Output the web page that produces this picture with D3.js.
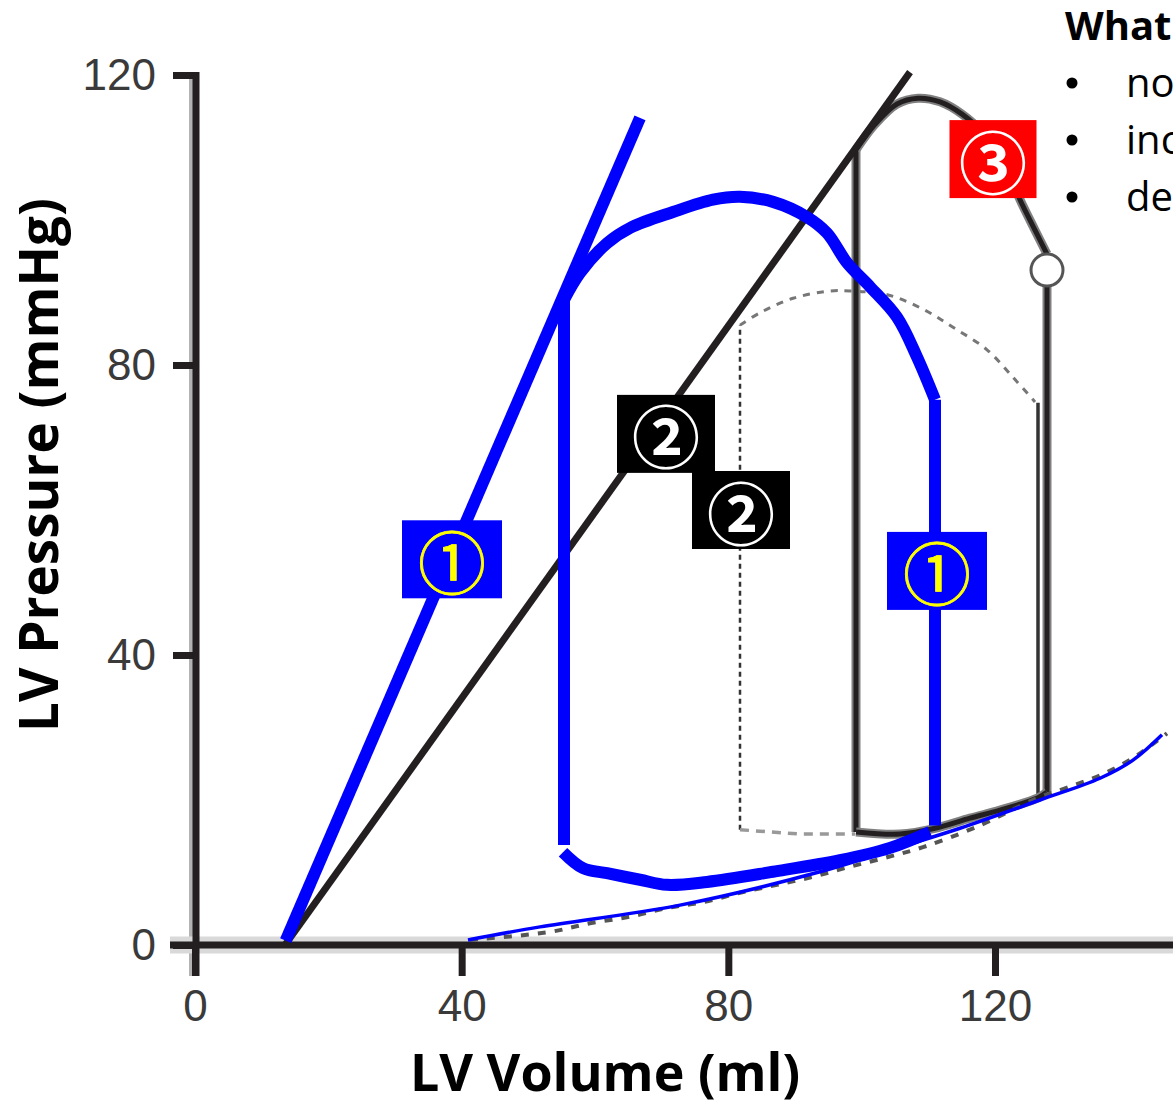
<!DOCTYPE html>
<html>
<head>
<meta charset="utf-8">
<script src="https://cdn.jsdelivr.net/npm/d3@7"></script>
<style>
  html, body { margin: 0; padding: 0; background: #fff; }
  svg { display: block; }
</style>
</head>
<body>
<div id="chart"></div>
<script>
// axis ticks
const volumeTicks = [0, 40, 80, 120];
const pressureTicks = [0, 40, 80, 120];

// end-systolic pressure-volume relations [volume ml, pressure mmHg]
const espvrBlack = [[13.5, 0], [107.25, 120.4]];
const espvrBlue = [[13.6, 0.6], [66.75, 114.1]];

// blue loop
const blueLoopRight = [[111.0, 16.5], [111.0, 75.2]];
const blueLoopEjection = [
  [111.0, 75.2], [108.3, 81.1], [105.3, 86.6], [101.25, 90.8],
  [97.8, 94.1], [94.8, 98.2], [91.8, 100.4], [86.7, 102.5], [81.75, 103.2],
  [77.7, 102.8], [71.7, 101.1], [65.25, 98.9], [61.8, 96.8], [57.75, 92.7],
  [55.35, 89.0]
];
const blueLoopLeft = [[55.35, 89.0], [55.35, 13.8]];
const blueLoopFilling = [
  [55.2, 12.8], [58.2, 10.6], [61.8, 9.9], [66.75, 9.0], [70.8, 8.3],
  [76.8, 8.7], [86.7, 10.1], [96.75, 11.7], [104.25, 13.4], [110.25, 15.6]
];

// grey solid loop
const greyLoopLeft = [[99.15, 15.6], [99.15, 109.7]];
const greyLoopTop = [
  [99.15, 109.7], [102.0, 113.2], [105.3, 116.0], [108.45, 116.8],
  [111.75, 116.3], [115.05, 114.6], [118.5, 111.7], [121.5, 107.6], [123.75, 102.8],
  [126.0, 98.6], [127.8, 95.3]
];
const greyLoopRight = [[127.8, 90.9], [127.8, 21.1]];
const greyLoopBottom = [
  [127.8, 21.1], [126.45, 20.3], [120.75, 18.6], [116.25, 17.5], [111.0, 16.1],
  [105.75, 15.3], [99.15, 15.6]
];
const valvePoint = [127.8, 93.1];

// dashed loop
const dashedLoopLeft = [[81.75, 15.9], [81.75, 85.5]];
const dashedLoopTop = [
  [81.75, 85.5], [84.75, 87.2], [89.7, 89.2], [95.25, 90.2], [98.25, 90.2],
  [103.8, 89.7], [109.2, 87.7], [113.7, 85.2], [118.8, 82.1], [122.7, 78.3], [126.0, 74.9]
];
const dashedLoopRight = [[126.45, 74.8], [126.45, 20.4]];
const dashedLoopBottom = [[81.75, 15.9], [90.75, 15.3], [99.0, 15.3]];

// end-diastolic pressure-volume relations
const edpvrDashed = [
  [41.25, 0.7], [53.25, 1.8], [59.25, 3.0], [65.25, 3.9], [70.8, 5.1], [76.2, 5.9],
  [81.75, 7.2], [87.3, 8.3], [92.7, 9.4], [98.25, 10.8], [103.8, 12.1], [109.2, 13.5],
  [117.0, 16.2], [126.45, 20.3], [130.8, 21.7], [135.75, 23.4], [140.7, 25.8], [145.8, 29.2]
];
const edpvrBlue = [
  [40.95, 0.7], [51.75, 2.5], [72.75, 5.5], [93.75, 10.1], [105.75, 13.5],
  [114.75, 16.1], [126.75, 20.0], [135.75, 23.0], [140.7, 25.5], [145.05, 29.0]
];

// numbered badges: [volume, pressure, label]
const badgeVolume = [38.55, 111.3, 70.65, 81.9, 119.7];
const badgePressure = [53.2, 51.6, 70.5, 60.0, 108.4];
const badgeLabels = ['\u2460', '\u2460', '\u2461', '\u2461', '\u2462'];
const badgeKinds = ['blue', 'blue', 'black', 'black', 'red'];

// side text
const questionTitle = 'What';
const questionItems = ['no', 'inc', 'de'];

const W = 1173, H = 1106;
const svg = d3.select('#chart').append('svg')
  .attr('width', W).attr('height', H)
  .style('font-family', "'Open Sans', 'Noto Sans', sans-serif");

const x = d3.scaleLinear().domain([0, 120]).range([195, 995]);
const y = d3.scaleLinear().domain([0, 120]).range([945, 75]);

const smooth = d3.line().x(d => x(d[0])).y(d => y(d[1])).curve(d3.curveCatmullRom.alpha(0.5));
const straight = d3.line().x(d => x(d[0])).y(d => y(d[1]));

// axes
const axisColor = '#231f20';
const gAxes = svg.append('g');

gAxes.append('line')
  .attr('x1', x(0) - 3).attr('x2', x(0) - 3)
  .attr('y1', y(120) + 3).attr('y2', y(0) + 31)
  .attr('stroke', '#b3b3b3').attr('stroke-width', 6);
gAxes.append('line')
  .attr('x1', 170).attr('x2', W)
  .attr('y1', y(0)).attr('y2', y(0))
  .attr('stroke', '#d9d9d9').attr('stroke-width', 17);

const yAxis = d3.axisLeft(y).tickValues(pressureTicks).tickSize(23).tickPadding(17).tickSizeOuter(0);
const yg = gAxes.append('g').attr('transform', `translate(${x(0) + 1},0)`).call(yAxis);
yg.select('.domain').remove();
yg.selectAll('.tick line').attr('stroke', axisColor).attr('stroke-width', 7);
yg.selectAll('.tick text')
  .attr('fill', '#3a3a3a')
  .style('font-family', "'Liberation Sans', Arial, sans-serif")
  .style('font-size', '44px');

const xAxis = d3.axisBottom(x).tickValues(volumeTicks).tickSize(31).tickPadding(14).tickSizeOuter(0);
const xg = gAxes.append('g').attr('transform', `translate(0,${y(0)})`).call(xAxis);
xg.select('.domain').remove();
xg.selectAll('.tick line').attr('stroke', axisColor).attr('stroke-width', 7);
xg.selectAll('.tick text')
  .attr('fill', '#3a3a3a')
  .style('font-family', "'Liberation Sans', Arial, sans-serif")
  .style('font-size', '44px');

gAxes.append('line')
  .attr('x1', x(0) + 1).attr('x2', x(0) + 1)
  .attr('y1', y(120) - 3).attr('y2', y(0) + 31)
  .attr('stroke', axisColor).attr('stroke-width', 7);
gAxes.append('line')
  .attr('x1', 170).attr('x2', W)
  .attr('y1', y(0)).attr('y2', y(0))
  .attr('stroke', axisColor).attr('stroke-width', 7);

// axis titles
svg.append('text')
  .attr('x', 605).attr('y', 1091)
  .attr('text-anchor', 'middle')
  .attr('font-weight', 'bold').attr('font-size', 52)
  .attr('fill', '#000')
  .text('LV Volume (ml)');

svg.append('text')
  .attr('transform', 'translate(58,465) rotate(-90)')
  .attr('text-anchor', 'middle')
  .attr('font-weight', 'bold').attr('font-size', 53)
  .attr('fill', '#000')
  .text('LV Pressure (mmHg)');

// dashed reference loop
const gLoops = svg.append('g').attr('fill', 'none');
gLoops.append('path').attr('d', straight(dashedLoopLeft))
  .attr('stroke', '#333').attr('stroke-width', 2.5).attr('stroke-dasharray', '5,4');
gLoops.append('path').attr('d', smooth(dashedLoopTop))
  .attr('stroke', '#777').attr('stroke-width', 3).attr('stroke-dasharray', '7,7');
gLoops.append('path').attr('d', straight(dashedLoopRight))
  .attr('stroke', '#333').attr('stroke-width', 3.5);
gLoops.append('path').attr('d', straight(dashedLoopBottom))
  .attr('stroke', '#999').attr('stroke-width', 3.5).attr('stroke-dasharray', '9,7');

// grey solid loop
[
  straight(greyLoopLeft), smooth(greyLoopTop), straight(greyLoopRight), smooth(greyLoopBottom)
].forEach(d => {
  gLoops.append('path').attr('d', d).attr('stroke', '#808080').attr('stroke-width', 9);
  gLoops.append('path').attr('d', d).attr('stroke', axisColor).attr('stroke-width', 5);
});

// EDPVR dashed
gLoops.append('path').attr('d', smooth(edpvrDashed))
  .attr('stroke', '#555').attr('stroke-width', 4).attr('stroke-dasharray', '8,9');

// black ESPVR
gLoops.append('path').attr('d', straight(espvrBlack))
  .attr('stroke', axisColor).attr('stroke-width', 7);

// valve marker
gLoops.append('circle')
  .attr('cx', x(valvePoint[0])).attr('cy', y(valvePoint[1])).attr('r', 16)
  .attr('fill', '#fff').attr('stroke', '#555').attr('stroke-width', 3);

// blue curves
gLoops.append('path').attr('d', smooth(edpvrBlue))
  .attr('stroke', '#0000ff').attr('stroke-width', 3.5);
[
  straight(blueLoopRight), smooth(blueLoopEjection), straight(blueLoopLeft), smooth(blueLoopFilling)
].forEach(d => {
  gLoops.append('path').attr('d', d)
    .attr('stroke', '#0000ff').attr('stroke-width', 12);
});
gLoops.append('path').attr('d', straight(espvrBlue))
  .attr('stroke', '#0000ff').attr('stroke-width', 12);

// badges
const badgeStyle = {
  blue: { fill: '#0000ff', text: '#ffff00', w: 100, h: 78, weight: 'normal' },
  black: { fill: '#000000', text: '#ffffff', w: 98, h: 78, weight: 'bold' },
  red: { fill: '#ff0000', text: '#ffffff', w: 87, h: 78, weight: 'bold' }
};
const gBadges = svg.append('g');
badgeLabels.forEach((label, i) => {
  const s = badgeStyle[badgeKinds[i]];
  const cx = x(badgeVolume[i]), cy = y(badgePressure[i]);
  gBadges.append('rect')
    .attr('x', cx - s.w / 2).attr('y', cy - s.h / 2)
    .attr('width', s.w).attr('height', s.h)
    .attr('fill', s.fill);
  gBadges.append('text')
    .attr('x', cx).attr('y', cy)
    .attr('text-anchor', 'middle').attr('dominant-baseline', 'central')
    .attr('font-size', 68).attr('font-weight', s.weight)
    .style('font-family', "'Noto Sans CJK JP', 'DejaVu Sans', sans-serif")
    .attr('fill', s.text)
    .attr('stroke', s.text).attr('stroke-width', badgeKinds[i] === 'blue' ? 0.8 : 0)
    .text(label);
});

// side question text (cut off by the page edge)
const gText = svg.append('g').attr('font-size', 40).attr('fill', '#000');
gText.append('text').attr('x', 1065).attr('y', 40).attr('font-weight', 'bold').text(questionTitle);
questionItems.forEach((t, i) => {
  const by = 97 + i * 57;
  gText.append('circle').attr('cx', 1072).attr('cy', by - 14).attr('r', 5.5).attr('fill', '#000');
  gText.append('text').attr('x', 1126).attr('y', by).text(t);
});
</script>
</body>
</html>
